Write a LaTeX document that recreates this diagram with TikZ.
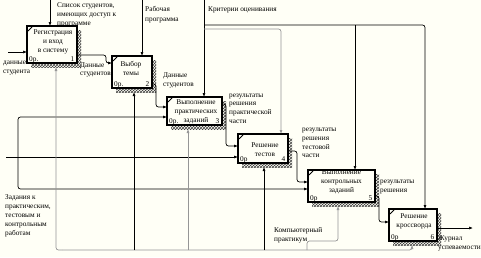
\documentclass[tikz,border=0pt]{standalone}
\usepackage{fontspec}
\setmainfont{Liberation Serif}
\usetikzlibrary{arrows.meta,patterns,calc,shadows}
\definecolor{bg}{RGB}{255,255,246}
\definecolor{lg}{RGB}{150,150,150}
\tikzset{
 txt/.style={font=\fontsize{7.3}{8.8}\selectfont, inner sep=0pt, align=left, anchor=north west},
 btxt/.style={font=\fontsize{7.3}{8.8}\selectfont, inner sep=0pt, align=center},
 idx/.style={font=\fontsize{7.3}{8.8}\selectfont, inner sep=0pt},
 fbox/.style={draw, line width=1.3pt, fill=bg, anchor=north west, inner sep=0pt, outer sep=0pt,
   drop shadow={shadow xshift=4pt, shadow yshift=-4pt, opacity=1, pattern=crosshatch, pattern color=black!75}},
 ln/.style={line width=0.7pt, draw=black, rounded corners=2.5pt},
 arr/.style={ln, -{Latex[length=4pt,width=3pt]}},
 garr/.style={arr, draw=lg},
 ear/.style={line width=0.8pt},
}
\begin{document}
\begin{tikzpicture}[x=1pt,y=-1pt]
\fill[bg] (0,0) rectangle (481,257);
\useasboundingbox (0,0) rectangle (481,257);

% boxes
\node[fbox, minimum width=50pt, minimum height=37pt] (b1) at (27,26) {};
\node[fbox, minimum width=40pt, minimum height=32pt] (b2) at (112,56) {};
\node[fbox, minimum width=55pt, minimum height=28pt] (b3) at (167,97) {};
\node[fbox, minimum width=50pt, minimum height=29pt] (b4) at (238,134) {};
\node[fbox, minimum width=67pt, minimum height=32pt] (b5) at (308,170) {};
\node[fbox, minimum width=48pt, minimum height=32pt] (b6) at (389,209) {};

\foreach \b in {b1,b2,b3,b4,b5,b6}{
  \draw[ear] ($(\b.north west)+(1,5)$) -- ($(\b.north west)+(5,1)$);
}

\node[btxt] (t1) at (53,42) {Регистрация\\и вход\\в систему};
\node[btxt] (t2) at (131,68.5) {Выбор\\темы};
\node[btxt] (t3) at (196,112) {Выполнение\\практических\\заданий};
\node[btxt] (t4) at (265,149.5) {Решение\\тестов};
\node[btxt] (t5) at (341.5,182) {Выполнение\\контрольных\\заданий};
\node[btxt] (t6) at (414,221.5) {Решение\\кроссворда};

\node[idx, anchor=base west] (n1a) at ($(b1.south west)+(2,-1.8)$) {0р.};
\node[idx, anchor=base east] (n1b) at ($(b1.south east)+(-2.5,-1.8)$) {1};
\node[idx, anchor=base west] (n2a) at ($(b2.south west)+(2,-1.8)$) {0р.};
\node[idx, anchor=base east] (n2b) at ($(b2.south east)+(-2.5,-1.8)$) {2};
\node[idx, anchor=base west] (n3a) at ($(b3.south west)+(2,-1.8)$) {0р.};
\node[idx, anchor=base east] (n3b) at ($(b3.south east)+(-2.5,-1.8)$) {3};
\node[idx, anchor=base west] (n4a) at ($(b4.south west)+(2,-1.8)$) {0р};
\node[idx, anchor=base east] (n4b) at ($(b4.south east)+(-2.5,-1.8)$) {4};
\node[idx, anchor=base west] (n5a) at ($(b5.south west)+(2,-1.8)$) {0р};
\node[idx, anchor=base east] (n5b) at ($(b5.south east)+(-2.5,-1.8)$) {5};
\node[idx, anchor=base west] (n6a) at ($(b6.south west)+(2,-1.8)$) {0р};
\node[idx, anchor=base east] (n6b) at ($(b6.south east)+(-2.5,-1.8)$) {6};

% controls
\coordinate (c1) at (50,0);
\draw[arr] (c1) -- ($(b1.north west)+(23,0)$);
\coordinate (c2) at (142,0);
\draw[arr] (c2) -- ($(b2.north west)+(30,0)$);
\coordinate (c3) at (204,0);
\draw[arr] (c3) -- ($(b3.north west)+(37,0)$);
\coordinate (k1) at (204,25);
\draw[arr] (k1) -- (425,25) -- ($(b6.north west)+(36,0)$);
\coordinate (k2) at (355,25);
\draw[arr] (k2) -- ($(b5.north west)+(47,0)$);
\coordinate (k3) at (204,29);
\draw[garr] (k3) -- (281,29) -- ($(b4.north west)+(43,0)$);

% input to box 1
\coordinate (i1) at (8,52);
\draw[arr] (i1) -- ($(b1.north west)+(0,26)$);

% flows between boxes
\draw[arr] ($(b1.north east)+(0,29)$) -- (106,55) -- (106,63) -- ($(b2.north west)+(0,7)$);
\draw[arr] ($(b2.north east)+(0,28)$) -- (156,84) -- (156,107) -- ($(b3.north west)+(0,10)$);
\draw[arr] ($(b3.north east)+(0,7)$) -- (226,104) -- (226,146) -- ($(b4.north west)+(0,12)$);
\draw[arr] ($(b4.north east)+(0,17)$) -- (297,151) -- (297,182) -- ($(b5.north west)+(0,12)$);
\draw[arr] ($(b5.north east)+(0,26)$) -- (379,196) -- (379,222) -- ($(b6.north west)+(0,13)$);
\coordinate (o6) at (473,228);
\draw[arr] ($(b6.north east)+(0,19)$) -- (o6);

% fork of tasks
\coordinate (f0) at (6,157);
\coordinate (f1) at (18,157);
\draw[arr] (f0) -- ($(b4.north west)+(0,23)$);
\draw[arr] (f1) -- (18,117) -- ($(b3.north west)+(0,20)$);
\draw[arr] (f1) -- (18,189) -- ($(b5.north west)+(0,19)$);

% mechanisms
\coordinate (m0) at (62,250);
\draw[garr] (m0) -- (56,250) -- ($(b1.south west)+(29,4)$);
\draw[garr] (m0) -- (412,250) -- ($(b6.south west)+(23,4)$);
\coordinate (m2) at (134,250);
\draw[arr] (m2) -- ($(b2.south west)+(22,4)$);
\coordinate (m3) at (188,250);
\draw[garr] (m3) -- ($(b3.south west)+(21,4)$);
\coordinate (m4) at (264,250);
\draw[arr] (m4) -- ($(b4.south west)+(26,4)$);
\coordinate (m5) at (307,250);
\draw[garr] (m5) -- (307,241) -- (338,241) -- ($(b5.south west)+(30,4)$);

% labels
\node[txt] (l1) at (57,1.5) {\strut Список студентов,\\имеющих доступ к\\программе};
\node[txt, font=\fontsize{7.3}{9.7}\selectfont] (l2) at (145,4.8) {\strut Рабочая\\программа};
\node[txt] (l3) at (208,5.5) {\strut Критерии оценивания};
\node[txt, font=\fontsize{7.3}{8.6}\selectfont] (l4) at (3,58.5) {\strut данные\\студента};
\node[txt, font=\fontsize{7.3}{8.4}\selectfont] (l5) at (80,61.5) {\strut Данные\\студентов};
\node[txt] (l6) at (163,71.5) {\strut Данные\\студентов};
\node[txt, font=\fontsize{7.3}{8.6}\selectfont] (l7) at (229,91) {\strut результаты\\решения\\практической\\части};
\node[txt, font=\fontsize{7.3}{8.7}\selectfont] (l8) at (302,125.5) {\strut результаты\\решения\\тестовой\\части};
\node[txt] (l9) at (380,177.5) {\strut результаты\\решения};
\node[txt] (l10) at (438,234.5) {\strut Журнал\\успеваемости};
\node[txt] (l11) at (274,226.5) {\strut Компьютерный\\практикум};
\node[txt] (l12) at (5,193.5) {\strut Задания к\\практическим,\\тестовым и\\контрольным\\работам};
\end{tikzpicture}
\end{document}
